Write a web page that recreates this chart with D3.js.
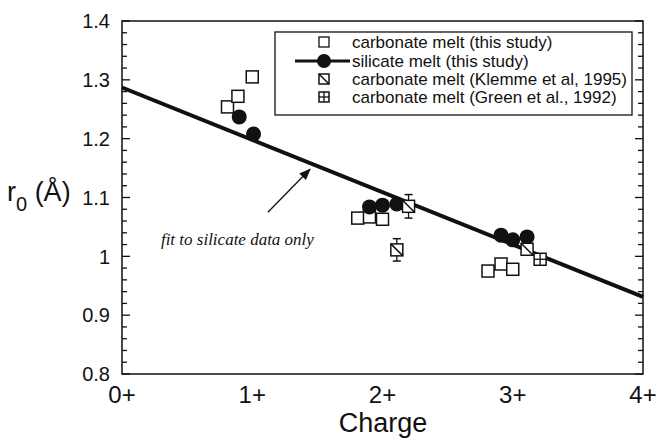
<!DOCTYPE html>
<html>
<head>
<meta charset="utf-8">
<script src="https://cdn.jsdelivr.net/npm/d3@7"></script>
<style>
  body { margin: 0; background: #fff; }
  text { font-family: "Liberation Sans", Arial, sans-serif; fill: #111; }
</style>
</head>
<body>
<div id="chart"></div>
<script>
var W = 657, H = 438;
var margin = {top: 21, right: 14, bottom: 64, left: 122};
var w = W - margin.left - margin.right,
    h = H - margin.top - margin.bottom;

// data
var xTicks = [0, 1, 2, 3, 4];
var xTickLabels = ["0+", "1+", "2+", "3+", "4+"];
var yTicks = [0.8, 0.9, 1, 1.1, 1.2, 1.3, 1.4];

var carbX = [0.81, 0.89, 1.00, 1.81, 1.90, 2.00, 2.81, 2.91, 3.00];
var carbY = [1.254, 1.272, 1.305, 1.065, 1.067, 1.063, 0.975, 0.987, 0.978];

var silX = [0.90, 1.01, 1.90, 2.00, 2.11, 2.91, 3.00, 3.11];
var silY = [1.237, 1.208, 1.084, 1.087, 1.089, 1.036, 1.028, 1.033];

var klemmeX = [2.20, 2.11, 3.11];
var klemmeY = [1.085, 1.011, 1.012];
var klemmeErr = [0.020, 0.019, 0];

var greenX = [3.21];
var greenY = [0.995];
var greenErr = [0.008];

// fit to silicate data only
var fitX = [0, 4];
var fitY = [1.287, 0.931];

var legendLabels = ["carbonate melt (this study)", "silicate melt (this study)",
  "carbonate melt (Klemme et al, 1995)", "carbonate melt (Green et al., 1992)"];

var svg = d3.select("#chart").append("svg")
  .attr("width", W).attr("height", H);
var g = svg.append("g").attr("transform", "translate(" + margin.left + "," + margin.top + ")");

var x = d3.scaleLinear().domain([0, 4]).range([0, w]);
var y = d3.scaleLinear().domain([0.8, 1.4]).range([h, 0]);

// frame
g.append("rect").attr("width", w).attr("height", h)
  .attr("fill", "none").attr("stroke", "#111").attr("stroke-width", 1.5);

// y ticks, left and right, pointing inward
var minor = d3.range(0.8, 1.4001, 0.02);
[0, w].forEach(function(x0, side) {
  var dir = side === 0 ? 1 : -1;
  g.selectAll(".tk" + side).data(minor).enter().append("line")
    .attr("x1", x0)
    .attr("x2", function(d) { return x0 + dir * (Math.abs(d * 10 - Math.round(d * 10)) < 1e-6 ? 8 : 5); })
    .attr("y1", function(d) { return y(d); })
    .attr("y2", function(d) { return y(d); })
    .attr("stroke", "#111").attr("stroke-width", 1.3);
});

// tick labels
g.selectAll(".ylab").data(yTicks).enter().append("text")
  .attr("x", -12).attr("y", function(d) { return y(d); })
  .attr("dy", "0.36em").attr("text-anchor", "end")
  .attr("font-size", "20px")
  .text(function(d) { return d3.format("")(d); });

g.selectAll(".xlab").data(xTicks).enter().append("text")
  .attr("x", function(d) { return x(d); }).attr("y", h + 29)
  .attr("text-anchor", "middle").attr("font-size", "24px")
  .text(function(d, i) { return xTickLabels[i]; });

svg.append("text").attr("x", 383).attr("y", 432)
  .attr("text-anchor", "middle").attr("font-size", "27px").text("Charge");

var yl = svg.append("text").attr("x", 7).attr("y", 201).attr("font-size", "27px");
yl.append("tspan").text("r");
yl.append("tspan").attr("dy", 10).attr("font-size", "20px").text("0");
yl.append("tspan").attr("dy", -10).text(" (Å)");

// carbonate squares (this study)
var sq = 12;
g.selectAll(".carb").data(carbX).enter().append("rect")
  .attr("x", function(d) { return x(d) - sq / 2; })
  .attr("y", function(d, i) { return y(carbY[i]) - sq / 2; })
  .attr("width", sq).attr("height", sq)
  .attr("fill", "#fff").attr("stroke", "#111").attr("stroke-width", 1.5);

// fit line
var line = d3.line().x(function(d) { return x(d); }).y(function(d, i) { return y(fitY[i]); });
g.append("path").datum(fitX).attr("d", line)
  .attr("fill", "none").attr("stroke", "#111").attr("stroke-width", 4);

// silicate circles
g.selectAll(".sil").data(silX).enter().append("circle")
  .attr("cx", function(d) { return x(d); })
  .attr("cy", function(d, i) { return y(silY[i]); })
  .attr("r", 7.5).attr("fill", "#111");

// error bars
function errBars(xs, ys, es) {
  xs.forEach(function(d, i) {
    if (!es[i]) return;
    var cx = x(d), y1 = y(ys[i] - es[i]), y2 = y(ys[i] + es[i]);
    g.append("line").attr("x1", cx).attr("x2", cx).attr("y1", y1).attr("y2", y2)
      .attr("stroke", "#111").attr("stroke-width", 1.3);
    [y1, y2].forEach(function(yy) {
      g.append("line").attr("x1", cx - 4).attr("x2", cx + 4).attr("y1", yy).attr("y2", yy)
        .attr("stroke", "#111").attr("stroke-width", 1.5);
    });
  });
}
errBars(klemmeX, klemmeY, klemmeErr);
errBars(greenX, greenY, greenErr);

function klemmeSym(sel, cx, cy, s) {
  sel.append("rect").attr("x", cx - s / 2).attr("y", cy - s / 2).attr("width", s).attr("height", s)
    .attr("fill", "#fff").attr("stroke", "#111").attr("stroke-width", 1.5);
  sel.append("line").attr("x1", cx - s / 2).attr("y1", cy - s / 2).attr("x2", cx + s / 2).attr("y2", cy + s / 2)
    .attr("stroke", "#111").attr("stroke-width", 1.5);
}
function greenSym(sel, cx, cy, s) {
  sel.append("rect").attr("x", cx - s / 2).attr("y", cy - s / 2).attr("width", s).attr("height", s)
    .attr("fill", "#fff").attr("stroke", "#111").attr("stroke-width", 1.5);
  sel.append("line").attr("x1", cx - s / 2).attr("y1", cy).attr("x2", cx + s / 2).attr("y2", cy)
    .attr("stroke", "#111").attr("stroke-width", 1.3);
  sel.append("line").attr("x1", cx).attr("y1", cy - s / 2).attr("x2", cx).attr("y2", cy + s / 2)
    .attr("stroke", "#111").attr("stroke-width", 1.3);
}
klemmeX.forEach(function(d, i) { klemmeSym(g, x(d), y(klemmeY[i]), sq); });
greenX.forEach(function(d, i) { greenSym(g, x(d), y(greenY[i]), sq); });

// annotation
svg.append("defs").append("marker").attr("id", "ah")
  .attr("viewBox", "0 0 10 10").attr("refX", 9).attr("refY", 5)
  .attr("markerWidth", 9).attr("markerHeight", 9).attr("orient", "auto")
  .append("path").attr("d", "M0,1 L10,5 L0,9 z").attr("fill", "#111");
g.append("line")
  .attr("x1", x(1.12)).attr("y1", y(1.075))
  .attr("x2", x(1.443)).attr("y2", y(1.148))
  .attr("stroke", "#111").attr("stroke-width", 1.3).attr("marker-end", "url(#ah)");
g.append("text").attr("x", x(0.886)).attr("y", y(1.02))
  .attr("text-anchor", "middle").attr("font-size", "17px")
  .style("font-family", "'Liberation Serif', 'Times New Roman', serif").style("font-style", "italic")
  .text("fit to silicate data only");

// legend
var lg = svg.append("g");
lg.append("rect").attr("x", 275).attr("y", 32).attr("width", 357).attr("height", 83)
  .attr("fill", "#fff").attr("stroke", "#111").attr("stroke-width", 1.3);
var rowY = [42, 61, 79, 97];
var symX = 324;
lg.selectAll(".lt").data(legendLabels).enter().append("text")
  .attr("x", 352).attr("y", function(d, i) { return rowY[i]; })
  .attr("dy", "0.36em").attr("font-size", "17px")
  .text(function(d) { return d; });
lg.append("rect").attr("x", symX - 5).attr("y", rowY[0] - 5).attr("width", 10).attr("height", 10)
  .attr("fill", "#fff").attr("stroke", "#111").attr("stroke-width", 1.3);
lg.append("line").attr("x1", 295).attr("x2", 350).attr("y1", rowY[1]).attr("y2", rowY[1])
  .attr("stroke", "#111").attr("stroke-width", 3);
lg.append("circle").attr("cx", symX).attr("cy", rowY[1]).attr("r", 7).attr("fill", "#111");
klemmeSym(lg, symX, rowY[2], 10);
greenSym(lg, symX, rowY[3], 10);
</script>
</body>
</html>
